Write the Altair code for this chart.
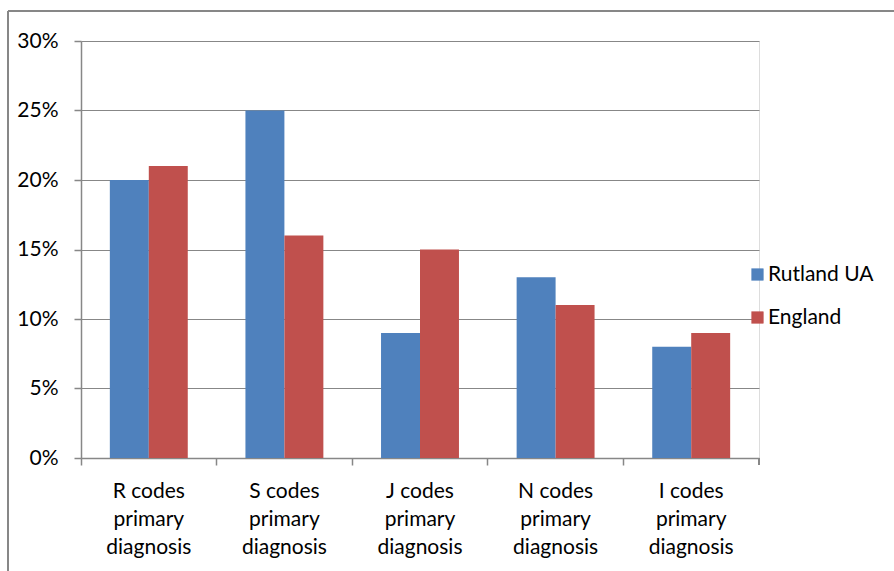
import altair as alt
import pandas as pd

# Share of admissions by primary diagnosis chapter
categories = [
    "R codes\nprimary\ndiagnosis",
    "S codes\nprimary\ndiagnosis",
    "J codes\nprimary\ndiagnosis",
    "N codes\nprimary\ndiagnosis",
    "I codes\nprimary\ndiagnosis",
]
series = ["Rutland UA", "England"]
rutland = [0.20, 0.25, 0.09, 0.13, 0.08]
england = [0.21, 0.16, 0.15, 0.11, 0.09]
colors = ["#4F81BD", "#C0504D"]

rows = []
for cat, r, e in zip(categories, rutland, england):
    rows.append({"category": cat, "series": series[0], "value": r})
    rows.append({"category": cat, "series": series[1], "value": e})
df = pd.DataFrame(rows)

W, H = 678, 417
FONT = "Lato"
FS = 21
GRAY = "#878787"

bars = alt.Chart(df).mark_bar().encode(
    x=alt.X(
        "category:N",
        sort=categories,
        title=None,
        scale=alt.Scale(paddingInner=0, paddingOuter=0),
        axis=alt.Axis(
            labelAngle=0,
            labelExpr="split(datum.value, '\\n')",
            labelLineHeight=28,
            labelFontSize=FS,
            labelFont=FONT,
            labelColor="#000000",
            labelPadding=15,
            bandPosition=0,
            tickSize=7,
            tickColor=GRAY,
            tickWidth=1.5,
            domainColor=GRAY,
            domainWidth=1.5,
            grid=False,
        ),
    ),
    xOffset=alt.XOffset(
        "series:N",
        sort=series,
        scale=alt.Scale(paddingInner=0, paddingOuter=0.74),
    ),
    y=alt.Y(
        "value:Q",
        title=None,
        scale=alt.Scale(domain=[0, 0.30], nice=False),
        axis=alt.Axis(
            values=[0, 0.05, 0.10, 0.15, 0.20, 0.25, 0.30],
            format=".0%",
            labelFontSize=FS,
            labelFont=FONT,
            labelColor="#000000",
            labelPadding=16,
            tickSize=7,
            tickColor=GRAY,
            tickWidth=1.5,
            domainColor=GRAY,
            domainWidth=1.5,
            gridColor=GRAY,
            gridWidth=1.2,
        ),
    ),
    color=alt.Color(
        "series:N",
        sort=series,
        scale=alt.Scale(domain=series, range=colors),
        legend=alt.Legend(
            title=None,
            orient="none",
            legendX=666,
            legendY=223,
            symbolType="square",
            symbolSize=150,
            symbolStrokeWidth=0,
            labelFontSize=FS,
            labelFont=FONT,
            labelColor="#000000",
            labelOffset=0,
            rowPadding=21,
        ),
    ),
)

# closing tick at the right end of the category axis
end_tick = alt.Chart(df).mark_rule(color=GRAY, strokeWidth=1.5).encode(
    x=alt.value(W), y=alt.value(H), y2=alt.value(H + 7)
)

# outer frame of the chart area (left and top edges)
frame_left = alt.Chart(df).mark_rule(color=GRAY, strokeWidth=1.5).encode(
    x=alt.value(-73), y=alt.value(-30), y2=alt.value(540)
)
frame_top = alt.Chart(df).mark_rule(color=GRAY, strokeWidth=1.5).encode(
    x=alt.value(-73), x2=alt.value(830), y=alt.value(-30)
)

chart = (
    alt.layer(bars, end_tick, frame_left, frame_top)
    .properties(
        width=W,
        height=H,
        autosize=alt.AutoSizeParams(type="none"),
        padding={"left": 81, "top": 41, "right": 135, "bottom": 113},
    )
    .configure_view(stroke=None)
    .configure(background="#FFFFFF")
)

chart.save("out.html", embed_options={"renderer": "svg", "actions": False})
